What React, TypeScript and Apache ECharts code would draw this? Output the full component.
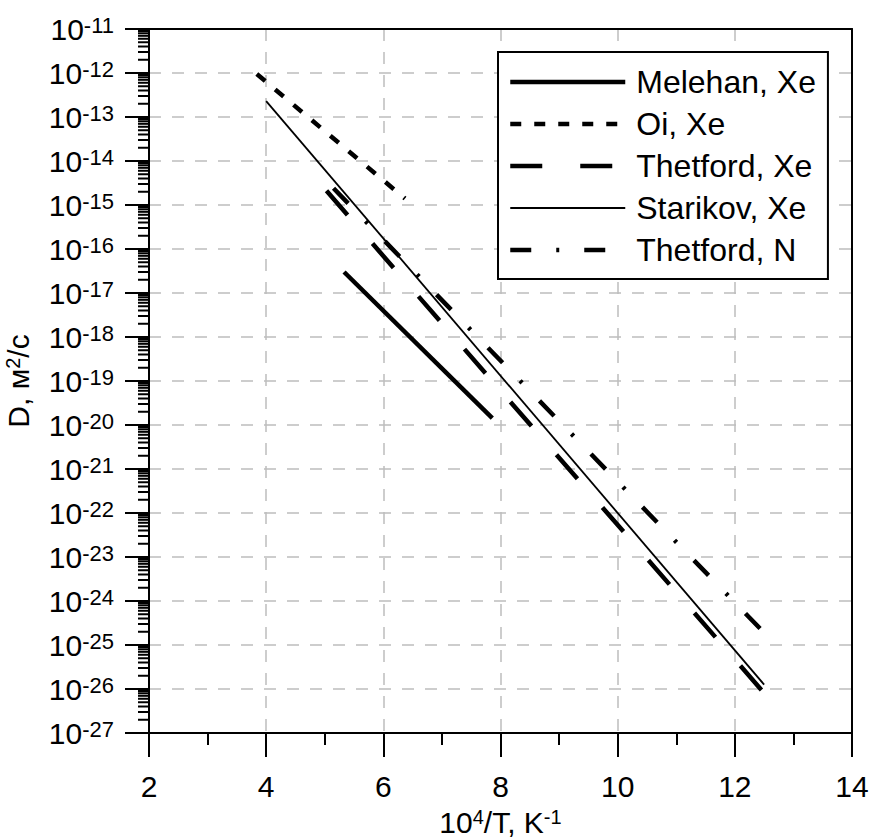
import React, { useEffect, useRef } from 'react';
import * as echarts from 'echarts';

// ---- data ----
const seriesNames = ['Melehan, Xe', 'Oi, Xe', 'Thetford, Xe', 'Starikov, Xe', 'Thetford, N'];

const melehanX = [5.33, 7.86];
const melehanD = [3.0e-17, 1.43e-20];

const oiX = [3.84, 6.37];
const oiD = [9.5e-13, 1.4e-15];

const thetfordXeX = [5.03, 12.48];
const thetfordXeD = [2.1e-15, 8.7e-27];

const starikovX = [4.0, 12.5];
const starikovD = [2.3e-13, 1.26e-26];

const thetfordNX = [5.15, 12.5];
const thetfordND = [2.4e-15, 1.9e-25];

const xMin = 2;
const xMax = 14;
const xStep = 2;
// y axis: decades of D (log10 scale)
const yMinExp = -27;
const yMaxExp = -11;
const minorMultipliers = [2, 3, 4, 5, 6, 7, 8, 9];

const FONT = '"Liberation Sans", Arial, sans-serif';

const toLog = (xs: number[], ds: number[]) => xs.map((x, i) => [x, Math.log10(ds[i])]);

export default function App() {
  const ref = useRef<HTMLDivElement>(null);

  useEffect(() => {
    if (!ref.current) return;
    const chart = echarts.init(ref.current, undefined, { renderer: 'svg' });

    const minorTickValues: number[][] = [];
    for (let e = yMinExp; e < yMaxExp; e++) {
      for (const k of minorMultipliers) minorTickValues.push([xMin, Math.log10(k * Math.pow(10, e))]);
    }

    const black = '#000';
    const gridLine = { show: true, lineStyle: { color: '#bdbdbd', width: 1.5, type: [12, 11] as any } };

    const lineSeries = (name: string, data: number[][], width: number, type: any) => ({
      name,
      type: 'line',
      data,
      symbol: 'none',
      showSymbol: false,
      itemStyle: { color: black },
      lineStyle: { color: black, width, type, cap: 'butt' },
    });

    const option: any = {
      animation: false,
      backgroundColor: '#fff',
      textStyle: { fontFamily: FONT, color: black },
      grid: { left: 149, right: 21, top: 29, bottom: 105, containLabel: false, outerBoundsMode: 'none' },
      legend: {
        data: seriesNames,
        orient: 'vertical',
        left: 498,
        top: 52,
        padding: [14, 12, 13, 10],
        itemGap: 10,
        itemWidth: 115,
        itemHeight: 20,
        borderColor: black,
        borderWidth: 2,
        backgroundColor: '#fff',
        itemStyle: { opacity: 0 },
        lineStyle: { width: 'inherit', type: 'inherit', color: black },
        textStyle: { fontSize: 32, lineHeight: 32, color: black, fontFamily: FONT, padding: [0, 0, 0, 6] },
      },
      xAxis: [
        {
          type: 'value',
          min: xMin,
          max: xMax,
          interval: xStep,
          name: '{n|10}{s|4}{n|/T, K}{s|-1}',
          nameLocation: 'middle',
          nameGap: 74,
          nameTextStyle: {
            rich: {
              n: { fontSize: 30, lineHeight: 30, color: black, fontFamily: FONT },
              s: { fontSize: 20, lineHeight: 30, verticalAlign: 'top', color: black, fontFamily: FONT },
            },
          },
          axisLine: { show: true, onZero: false, lineStyle: { color: black, width: 2 } },
          axisTick: { show: true, length: 24, lineStyle: { color: black, width: 2 } },
          minorTick: { show: true, splitNumber: 2, length: 12, lineStyle: { color: black, width: 2 } },
          axisLabel: { fontSize: 30, color: black, margin: 38, fontFamily: FONT },
          splitLine: gridLine,
        },
        {
          type: 'value',
          position: 'top',
          min: xMin,
          max: xMax,
          axisLine: { show: true, onZero: false, lineStyle: { color: black, width: 2 } },
          axisTick: { show: false },
          axisLabel: { show: false },
          splitLine: { show: false },
        },
      ],
      yAxis: [
        {
          type: 'value',
          min: yMinExp,
          max: yMaxExp,
          interval: 1,
          name: '{n|D, м}{s|2}{n|/с}',
          nameLocation: 'middle',
          nameGap: 116,
          nameMoveOverlap: false,
          nameTextStyle: {
            rich: {
              n: { fontSize: 30, lineHeight: 30, color: black, fontFamily: FONT },
              s: { fontSize: 20, lineHeight: 30, verticalAlign: 'top', color: black, fontFamily: FONT },
            },
          },
          axisLine: { show: true, onZero: false, lineStyle: { color: black, width: 2 } },
          axisTick: { show: true, length: 24, lineStyle: { color: black, width: 2 } },
          minorTick: { show: false },
          axisLabel: {
            margin: 35,
            fontSize: 30,
            formatter: (v: number) => `{b|10}{s|${Math.round(v)}}`,
            rich: {
              b: { fontSize: 30, lineHeight: 30, color: black, fontFamily: FONT },
              s: { fontSize: 22, lineHeight: 30, verticalAlign: 'top', color: black, fontFamily: FONT },
            },
          },
          splitLine: gridLine,
        },
        {
          type: 'value',
          position: 'right',
          min: 0,
          max: 1,
          axisLine: { show: true, onZero: false, lineStyle: { color: black, width: 2 } },
          axisTick: { show: false },
          axisLabel: { show: false },
          splitLine: { show: false },
        },
      ],
      series: [
        lineSeries(seriesNames[0], toLog(melehanX, melehanD), 4.5, 'solid'),
        lineSeries(seriesNames[1], toLog(oiX, oiD), 4.5, [11, 13]),
        lineSeries(seriesNames[2], toLog(thetfordXeX, thetfordXeD), 4.5, [32, 38]),
        lineSeries(seriesNames[3], toLog(starikovX, starikovD), 1.8, 'solid'),
        lineSeries(seriesNames[4], toLog(thetfordNX, thetfordND), 4.5, [21, 25, 3, 25]),
        {
          name: 'minorTicks',
          type: 'custom',
          silent: true,
          clip: false,
          data: minorTickValues,
          renderItem: (_params: any, api: any) => {
            const p = api.coord([api.value(0), api.value(1)]);
            return {
              type: 'line',
              shape: { x1: p[0] - 11, y1: p[1], x2: p[0], y2: p[1] },
              style: { stroke: black, lineWidth: 2 },
            };
          },
        },
      ],
    };

    chart.setOption(option);
    return () => chart.dispose();
  }, []);

  return (
    <div
      ref={ref}
      style={{ position: 'fixed', left: 0, top: 0, width: 873, height: 838, background: '#fff' }}
    />
  );
}
